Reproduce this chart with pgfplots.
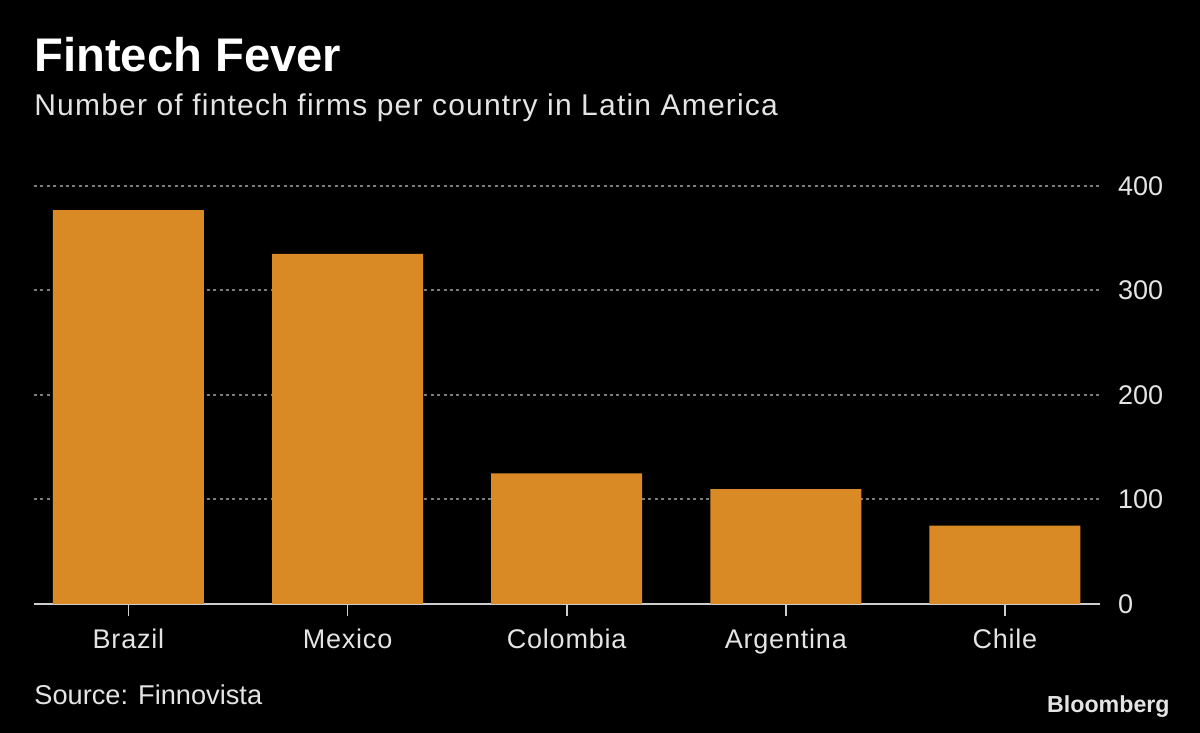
\documentclass[border=0pt]{standalone}
\usepackage{pgfplots}
\pgfplotsset{compat=1.18}
\usepackage{fontspec}
\setmainfont{Liberation Sans}
\definecolor{barorange}{RGB}{218,138,37}
\definecolor{gridgray}{RGB}{125,125,125}
\definecolor{axisgray}{RGB}{205,205,205}
\definecolor{txt}{RGB}{228,228,228}
\begin{document}
\begin{tikzpicture}[x=1pt,y=1pt]
\fill[black] (0,0) rectangle (600,366.5);
\begin{axis}[
  at={(17pt,64.5pt)}, anchor=south west,
  scale only axis, width=533pt, height=209pt,
  xmin=-0.431, xmax=4.434, ymin=0, ymax=400,
  axis line style={draw=none},
  ybar, bar width=75.5pt,
  xtick=data,
  xticklabels={Brazil,Mexico,Colombia,Argentina,Chile},
  ytick={100,200,300,400},
  extra y ticks={0},
  extra y tick style={grid style={solid, axisgray, line width=1.1pt}, ytick style={draw=none}},
  ymajorgrids,
  grid style={dash pattern=on 1.5pt off 1.7pt, gridgray, line width=1pt},
  yticklabel pos=right,
  xtick pos=bottom,
  ytick style={draw=none},
  xtick style={draw=axisgray, line width=0.9pt},
  major tick length=6pt,
  tick align=outside,
  x tick label style={font=\fontsize{13.5}{14}\selectfont\addfontfeatures{LetterSpace=3}, text=txt, yshift=-3pt},
  y tick label style={font=\fontsize{13.5}{14}\selectfont, text=txt, anchor=west, xshift=-0.5pt},
  /pgf/number format/assume math mode=true,
  clip=false,
]
\addplot[fill=barorange, draw=none] coordinates {(0,377) (1,335) (2,125) (3,110) (4,75)};
\end{axis}
\node[anchor=base west, inner sep=0pt, text=white, font=\fontsize{23.6}{24}\selectfont\bfseries] at (17,330.5) {Fintech Fever};
\node[anchor=base west, inner sep=0pt, text=txt, font=\fontsize{15}{16}\selectfont\addfontfeatures{LetterSpace=4}] at (17,308.5) {Number of fintech firms per country in Latin America};
\node[anchor=base west, inner sep=0pt, text=txt, font=\fontsize{13.6}{15}\selectfont] at (17,14) {Source: Finnovista};
\node[anchor=base east, inner sep=0pt, text=txt, font=\fontsize{11.6}{12}\selectfont\bfseries] at (585,10) {Bloomberg};
\end{tikzpicture}
\end{document}
